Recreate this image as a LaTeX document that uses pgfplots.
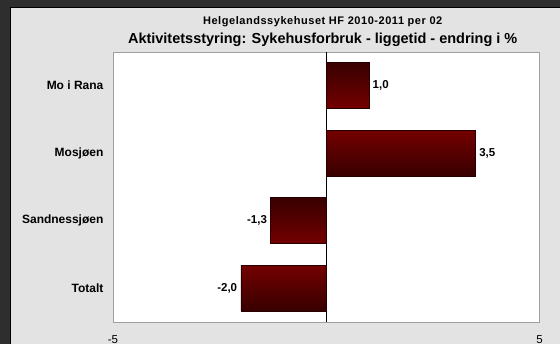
\documentclass[border=0pt]{standalone}
\usepackage{pgfplots}
\pgfplotsset{compat=1.18}
\usepackage{fontspec}
\setmainfont{Liberation Sans}
\definecolor{outerdark}{HTML}{2E2E2E}
\definecolor{panel}{HTML}{E3E3E3}
\definecolor{barmid}{HTML}{820000}
\definecolor{baredge}{HTML}{380000}
\definecolor{framegray}{HTML}{A0A0A0}
\begin{document}
\begin{tikzpicture}[x=1pt,y=1pt]
\fill[outerdark] (0,0) rectangle (560,344);
\fill[panel] (11,0) rectangle (560,336);
\draw[black,line width=1pt] (10.5,0) -- (10.5,336.5) -- (560,336.5);
\node[anchor=base,inner sep=0pt,font=\fontsize{11}{13}\selectfont\bfseries\addfontfeature{LetterSpace=5}] at (323,319.5) {Helgelandssykehuset HF 2010-2011 per 02};
\node[anchor=base,inner sep=0pt,font=\fontsize{14.5}{17}\selectfont\bfseries] at (323,300) {Aktivitetsstyring: Sykehusforbruk - liggetid - endring i \%};
\begin{axis}[
  at={(113pt,22pt)}, anchor=south west,
  width=427pt, height=270pt, scale only axis,
  xbar, bar width=46pt, bar shift=0pt,
  xmin=-5, xmax=5,
  ymin=-0.5, ymax=3.5, y dir=reverse,
  ytick={0,1,2,3},
  yticklabels={Mo i Rana,Mosjøen,Sandnessjøen,Totalt},
  xtick={-5,5},
  major tick length=0pt,
  /pgf/number format/assume math mode=true,
  axis line style={framegray},
  axis background/.style={fill=white},
  yticklabel style={font=\fontsize{12}{14}\selectfont\bfseries, xshift=-6pt},
  xticklabel style={font=\fontsize{11.5}{13}\selectfont, yshift=-10pt},
  extra x ticks={0}, extra x tick labels={},
  extra x tick style={grid=major, major grid style={black, line width=0.8pt}},
  point meta=explicit symbolic,
  nodes near coords,
  every node near coord/.append style={font=\fontsize{11.5}{13}\selectfont\bfseries, inner sep=3.5pt},
]
\addplot[draw=black!85!red, line width=0.6pt, top color=baredge, bottom color=baredge, middle color=barmid,
  every node near coord/.append style={anchor=west}]
  coordinates {(1.0,0) [1,0] (3.5,1) [3,5]};
\addplot[draw=black!85!red, line width=0.6pt, top color=baredge, bottom color=baredge, middle color=barmid,
  every node near coord/.append style={anchor=east}]
  coordinates {(-1.3,2) [-1,3] (-2.0,3) [-2,0]};
\end{axis}
\end{tikzpicture}
\end{document}
